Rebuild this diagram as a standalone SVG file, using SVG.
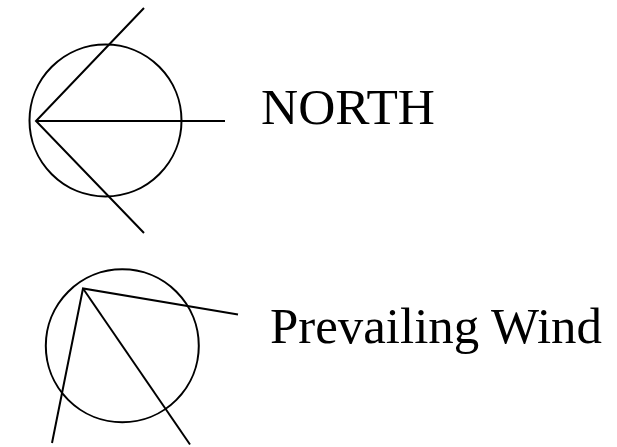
<svg xmlns="http://www.w3.org/2000/svg" width="617" height="447" viewBox="0 0 617 447">
<style>
.s{fill:none;stroke:#000;stroke-width:2}
.t{font-family:"Liberation Serif","Times New Roman",serif;font-size:51px;fill:#000}
</style>
<rect width="617" height="447" fill="#fff"/>
<g id="north">
<circle class="s" cx="105.5" cy="120.5" r="76"/>
<polyline class="s" points="144,8 36,121 144,233"/>
<line class="s" x1="36" y1="121" x2="225" y2="121"/>
<text class="t" x="261" y="123.5" textLength="174" lengthAdjust="spacingAndGlyphs">NORTH</text>
</g>
<g id="wind">
<circle class="s" cx="122.3" cy="345.8" r="76.5"/>
<polyline class="s" points="52,443 83,288.5 238,314.5"/>
<line class="s" x1="83" y1="288.5" x2="190" y2="444.5"/>
<text class="t" x="270" y="342.5" textLength="332" lengthAdjust="spacingAndGlyphs">Prevailing Wind</text>
</g>
</svg>
